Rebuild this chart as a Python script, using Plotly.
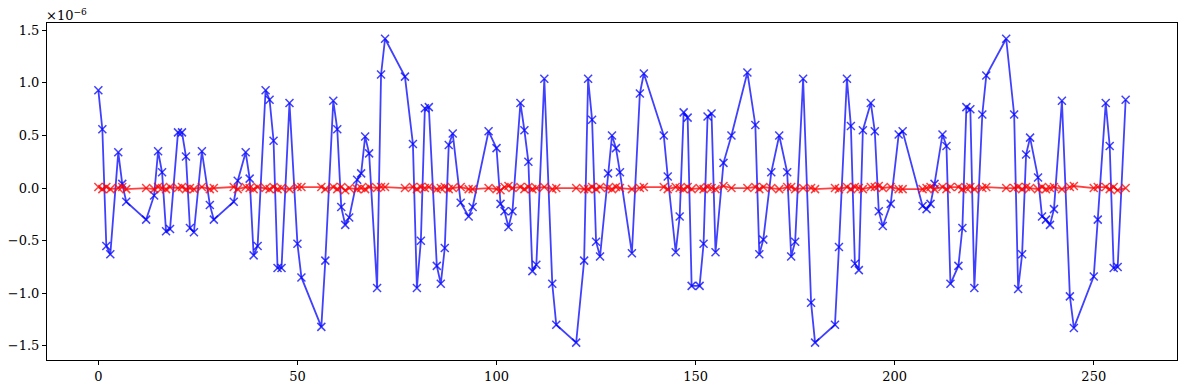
import plotly.graph_objects as go

# sample positions
x_vals = [0, 1, 2, 3, 5, 6, 7, 12, 14, 15, 16, 17, 18, 20, 21, 22, 23, 24, 26, 28,
          29, 34, 35, 37, 38, 39, 40, 42, 43, 44, 45, 46, 48, 50, 51, 56, 57, 59, 60, 61,
          62, 63, 65, 66, 67, 68, 70, 71, 72, 77, 79, 80, 81, 82, 83, 85, 86, 87, 88, 89,
          91, 93, 94, 98, 100, 101, 102, 103, 104, 106, 107, 108, 109, 110, 112, 114, 115, 120, 122, 123,
          124, 125, 126, 128, 129, 130, 131, 134, 136, 137, 142, 143, 145, 146, 147, 148, 149, 151, 152, 153,
          154, 155, 157, 159, 163, 165, 166, 167, 169, 171, 173, 174, 175, 177, 179, 180, 185, 186, 188, 189,
          190, 191, 192, 194, 195, 196, 197, 199, 201, 202, 207, 208, 209, 210, 212, 213, 214, 216, 217, 218,
          219, 220, 222, 223, 228, 230, 231, 232, 233, 234, 236, 237, 238, 239, 240, 242, 244, 245, 250, 251,
          253, 254, 255, 256, 258]

# blue series (units of 1e-6)
blue_vals = [0.93, 0.56, -0.55, -0.63, 0.34, 0.04, -0.13, -0.30, -0.07, 0.35, 0.15, -0.41, -0.39, 0.53, 0.53, 0.30, -0.38, -0.42, 0.35, -0.16,
             -0.30, -0.13, 0.07, 0.34, 0.09, -0.64, -0.55, 0.93, 0.84, 0.45, -0.76, -0.76, 0.81, -0.53, -0.85, -1.32, -0.69, 0.83, 0.56, -0.18,
             -0.35, -0.28, 0.08, 0.14, 0.49, 0.33, -0.95, 1.08, 1.42, 1.06, 0.42, -0.95, -0.50, 0.76, 0.77, -0.74, -0.91, -0.57, 0.41, 0.52,
             -0.14, -0.27, -0.18, 0.54, 0.38, -0.15, -0.22, -0.37, -0.22, 0.81, 0.55, 0.25, -0.79, -0.73, 1.04, -0.91, -1.30, -1.47, -0.69, 1.04,
             0.65, -0.51, -0.65, 0.14, 0.50, 0.38, 0.15, -0.62, 0.90, 1.09, 0.50, 0.11, -0.61, -0.27, 0.72, 0.67, -0.93, -0.93, -0.53, 0.68,
             0.71, -0.61, 0.24, 0.50, 1.10, 0.60, -0.63, -0.49, 0.15, 0.50, 0.15, -0.65, -0.51, 1.04, -1.09, -1.47, -1.30, -0.56, 1.04, 0.59,
             -0.72, -0.78, 0.55, 0.81, 0.54, -0.22, -0.36, -0.15, 0.51, 0.54, -0.17, -0.20, -0.15, 0.04, 0.51, 0.40, -0.91, -0.74, -0.38, 0.77,
             0.75, -0.95, 0.70, 1.07, 1.42, 0.70, -0.96, -0.63, 0.32, 0.48, 0.10, -0.27, -0.30, -0.35, -0.20, 0.83, -1.03, -1.33, -0.84, -0.30,
             0.81, 0.40, -0.76, -0.75, 0.84]

# red series (units of 1e-6)
red_vals = [0.01, -0.01, 0.01, -0.01, 0.00, 0.01, -0.01, 0.00, -0.01, 0.01, 0.00, -0.01, 0.01, 0.00, 0.01, -0.01, 0.00, -0.01, 0.01, -0.01,
            0.00, 0.01, -0.01, 0.01, 0.00, -0.01, 0.01, 0.00, -0.01, 0.01, -0.01, 0.00, -0.01, 0.01, 0.01, 0.01, -0.01, 0.01, -0.01, 0.01,
            -0.02, 0.00, -0.01, 0.00, -0.01, 0.01, 0.00, 0.01, 0.01, 0.00, 0.01, -0.01, 0.01, 0.00, 0.01, -0.01, 0.00, 0.01, -0.01, 0.00,
            0.01, -0.01, -0.01, 0.00, -0.01, -0.02, 0.01, 0.02, 0.00, 0.01, -0.01, 0.01, -0.01, 0.00, 0.01, -0.01, 0.00, 0.00, -0.01, -0.01,
            0.01, -0.01, 0.01, 0.00, -0.01, 0.01, 0.00, -0.01, 0.00, 0.01, 0.01, -0.01, 0.01, 0.00, -0.01, 0.01, -0.01, 0.00, -0.01, 0.01,
            0.00, -0.01, 0.02, 0.00, 0.00, 0.01, -0.01, 0.01, 0.00, -0.01, 0.01, 0.01, -0.01, 0.00, 0.00, -0.01, 0.00, -0.01, 0.01, -0.01,
            0.01, 0.00, -0.01, 0.01, 0.01, 0.02, 0.00, 0.01, -0.01, -0.01, -0.01, 0.00, 0.01, -0.01, 0.01, -0.01, 0.01, 0.01, -0.01, 0.00,
            0.01, -0.01, 0.00, 0.01, 0.00, 0.00, 0.01, -0.01, 0.01, 0.00, -0.01, 0.01, -0.01, 0.00, 0.01, -0.01, 0.01, 0.02, 0.00, 0.01,
            0.01, -0.01, 0.01, -0.02, 0.00]

x_ticks = [0, 50, 100, 150, 200, 250]
y_ticks = [-1.5, -1.0, -0.5, 0.0, 0.5, 1.0, 1.5]
scale_label = "×10<sup>−6</sup>"

FONT = "DejaVu Serif"
BLUE = "rgba(0,0,255,0.75)"
RED = "rgba(255,0,0,0.75)"

fig = go.Figure()
fig.add_trace(go.Scatter(
    x=x_vals, y=blue_vals, mode="lines+markers",
    line=dict(color=BLUE, width=1.8),
    marker=dict(symbol="x-thin", size=8, line=dict(color=BLUE, width=1.5)),
    showlegend=False))
fig.add_trace(go.Scatter(
    x=x_vals, y=red_vals, mode="lines+markers",
    line=dict(color=RED, width=1.8),
    marker=dict(symbol="x-thin", size=8, line=dict(color=RED, width=1.5)),
    showlegend=False))

axis_common = dict(showgrid=False, zeroline=False, showline=True, linecolor="black",
                   linewidth=1, mirror=True, ticks="outside", ticklen=4, tickwidth=1,
                   tickcolor="black", automargin=False,
                   tickfont=dict(family=FONT, size=13, color="black"))

fig.update_xaxes(range=[-12.9, 270.9], tickvals=x_ticks, **axis_common)
fig.update_yaxes(range=[-1.635, 1.57], tickvals=y_ticks, tickformat=".1f", **axis_common)

fig.add_annotation(text=scale_label, xref="paper", yref="paper", x=-0.003, y=1,
                   xanchor="left", yanchor="bottom", showarrow=False,
                   font=dict(family=FONT, size=13, color="black"), yshift=-2)

# page body has an 8px default margin; the figure is sized and padded to sit
# its plot frame at the reference position
fig.update_layout(width=1173, height=380, plot_bgcolor="white", paper_bgcolor="white",
                  margin=dict(l=39, r=4, t=15, b=28, autoexpand=False),
                  font=dict(family=FONT, color="black"))

fig.write_html("out.html")
